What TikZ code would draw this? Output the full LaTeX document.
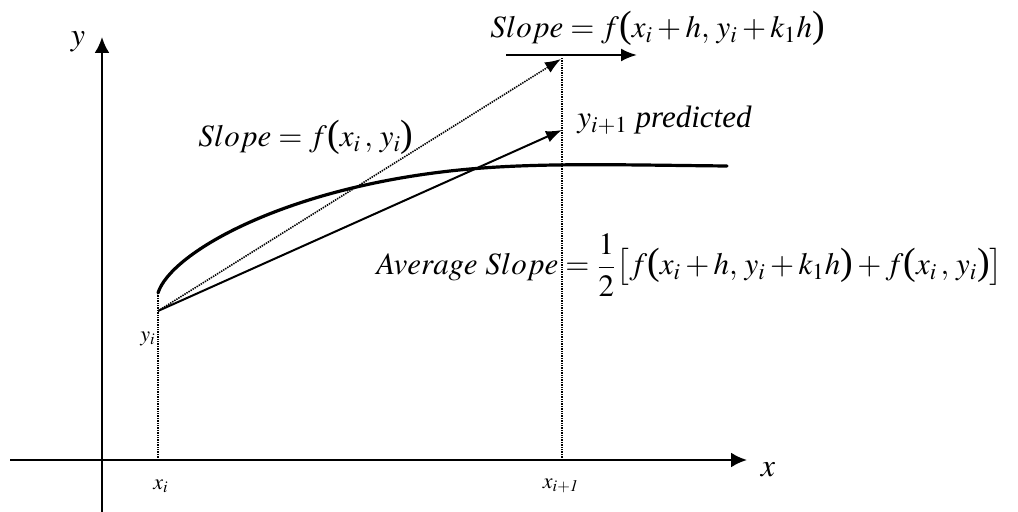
\documentclass[tikz,border=0pt]{standalone}
\usepackage{mathptmx}
\usepackage{fontspec}
\setmainfont{Liberation Serif}
\usetikzlibrary{arrows.meta}
\newcommand{\lpn}{\mathopen{\mbox{\fontsize{19}{19}\selectfont(}}}
\newcommand{\rpn}{\mathclose{\mbox{\fontsize{19}{19}\selectfont)}}}
\tikzset{
  axis/.style={line width=1.2pt, -{Latex[length=8pt,width=7.5pt]}},
  guide/.style={line width=0.8pt, dash pattern=on 0.7pt off 0.5pt},
  slopeline/.style={line width=1pt, -{Latex[length=8pt,width=6pt]}},
  bigtext/.style={inner sep=0pt, anchor=base west, font=\fontsize{15.5}{18}\selectfont},
  ticktext/.style={inner sep=0pt, font=\fontsize{11}{13}\selectfont},
}
\begin{document}
\begin{tikzpicture}[x=0.5pt, y=-0.5pt]
        % pixel grid of the figure, y grows downwards
        \useasboundingbox (0,0) rectangle (1018,512);
        \coordinate (xl) at (10,460);
        \coordinate (xr) at (747,460);
        \coordinate (yb) at (102,512);
        \coordinate (yt) at (102,37);
        \coordinate (xi) at (158,460);
        \coordinate (ci) at (158,293);
        \coordinate (P) at (158,311);
        \coordinate (xn) at (562,460);
        \coordinate (xntop) at (562,57);
        \coordinate (pred) at (562,130);
        \coordinate (tip) at (561,59);
        \coordinate (hl) at (506,55);
        \coordinate (hr) at (637,55);
        \draw[axis] (xl) -- (xr);
        \draw[axis] (yb) -- (yt);
        \draw[guide] (xi) -- (ci);
        \draw[guide] (xn) -- (xntop);
        \draw[line width=1.6pt, line cap=round] (ci) .. controls (170,254) and (280,190) .. (450,171)
          .. controls (530,162) and (620,165) .. (727,166);
        \draw[slopeline] (P) -- (pred);
        \draw[guide, -{Latex[length=8pt,width=6pt]}] (P) -- (tip);
        \draw[line width=1.2pt, -{Latex[length=8pt,width=6.5pt]}] (hl) -- (hr);
        \node[bigtext] (s2) at (490,38) {$Slope = f\lpn x_i + h,\, y_i + k_1h\rpn$};
        \node[bigtext] (s1) at (198,147) {$Slope = f\lpn x_i\,,\, y_i\rpn$};
        \node[bigtext] (yp) at (577,128) {$y_{i+1}$ \textit{predicted}};
        \node[bigtext] (avg) at (376,275)
          {$Average\ Slope = {\displaystyle\frac{1}{2}}\bigl[f\lpn x_i + h,\, y_i + k_1h\rpn + f\lpn x_i\,,\, y_i\rpn\bigr]$};
        \node[ticktext] (yil) at (148,339) {$y_i$};
        \node[ticktext] (xil) at (161,486) {$x_i$};
        \node[ticktext] (xnl) at (561,486) {$x_{\mathit{i+1}}$};
        \node[inner sep=0pt, font=\fontsize{16}{18}\selectfont] (xlab) at (768,470) {$x$};
        \node[inner sep=0pt, font=\fontsize{16}{18}\selectfont] (ylab) at (78,42) {$y$};
\end{tikzpicture}
\end{document}
